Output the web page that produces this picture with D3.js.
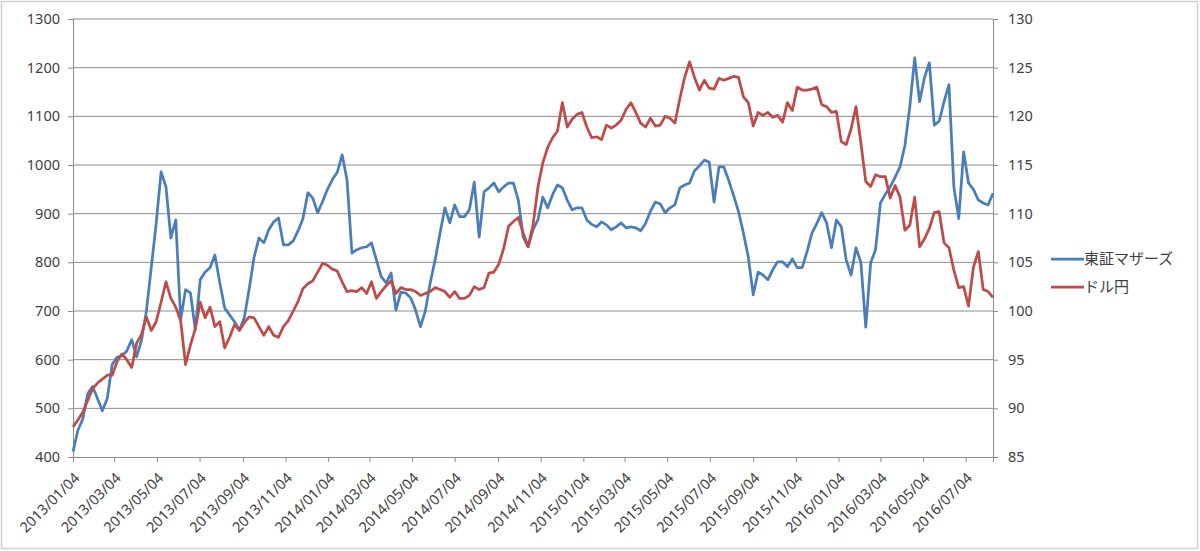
<!DOCTYPE html>
<html>
<head>
<meta charset="utf-8">
<script src="https://cdn.jsdelivr.net/npm/d3@7"></script>
<style>
  body { margin: 0; background: #fff; }
  svg text { font-family: "Noto Sans", "Noto Sans CJK JP", sans-serif; fill: #404040; }
</style>
</head>
<body>
<svg width="1200" height="551"></svg>
<script>
// weekly (Friday) closes, 2013/01/04 - 2016/08/12
var mothers = [411,455,478,530,545,520,495,520,590,605,608,618,641,606,640,700,790,880,986,955,
  850,887,682,744,737,661,764,780,789,815,758,706,692,678,661,686,745,810,850,840,
  867,883,891,836,836,844,865,890,943,932,902,925,950,970,985,1021,969,819,826,830,
  832,840,805,770,758,778,702,739,737,727,702,668,700,758,805,860,912,881,918,894,
  894,908,965,852,945,953,963,945,955,963,963,928,852,832,867,887,934,912,939,959,
  953,928,908,912,912,887,878,873,883,877,867,873,881,871,873,871,865,880,905,924,
  920,902,912,918,953,959,963,988,998,1010,1006,924,996,996,968,937,904,860,811,733,
  780,774,764,785,801,801,791,807,789,789,822,860,880,902,881,830,887,873,805,774,
  830,800,667,799,826,922,940,955,975,996,1040,1120,1220,1130,1180,1210,1082,1090,1130,1165,
  955,890,1027,963,950,928,922,918,942];
var usdjpy = [88.1,88.8,89.6,90.8,92.0,92.6,93.0,93.4,93.4,94.8,95.6,95.0,94.2,96.7,97.6,99.4,98.0,98.9,100.9,103.0,
  101.3,100.4,99.0,94.5,96.5,98.2,100.9,99.3,100.4,98.4,98.9,96.2,97.3,98.6,98.0,98.8,99.4,99.3,98.4,97.5,
  98.4,97.5,97.3,98.4,99.0,100.0,101.0,102.3,102.8,103.1,104.0,104.9,104.7,104.3,104.1,103.0,102.0,102.1,102.0,102.4,
  101.8,103.0,101.3,102.0,102.6,103.1,101.8,102.4,102.2,102.2,102.0,101.6,101.8,102.0,102.4,102.2,102.0,101.4,102.0,101.3,
  101.3,101.6,102.5,102.2,102.4,103.9,104.0,104.8,106.4,108.7,109.2,109.6,108.0,106.6,108.8,112.7,115.2,116.8,117.8,118.5,
  121.4,118.9,119.7,120.2,120.4,118.9,117.8,117.9,117.6,119.1,118.8,119.1,119.6,120.7,121.4,120.4,119.3,118.9,119.8,119.0,
  119.1,120.0,119.8,119.3,121.8,124.0,125.6,124.0,122.7,123.7,122.9,122.8,123.9,123.7,123.9,124.1,124.0,122.0,121.4,119.0,
  120.4,120.1,120.4,119.9,120.1,119.4,121.4,120.6,123.0,122.7,122.7,122.8,123.0,121.2,121.0,120.4,120.5,117.4,117.1,118.7,
  121.0,117.3,113.3,112.8,114.0,113.8,113.8,111.6,112.9,111.7,108.3,108.8,111.7,106.6,107.4,108.5,110.1,110.2,107.0,106.5,
  104.2,102.4,102.5,100.5,104.5,106.1,102.2,102.0,101.4];
var seriesNames = ['東証マザーズ', 'ドル円'];
var leftTicks = [400,500,600,700,800,900,1000,1100,1200,1300];
var rightTicks = [85,90,95,100,105,110,115,120,125,130];
var xTickLabels = ['2013/01/04','2013/03/04','2013/05/04','2013/07/04','2013/09/04','2013/11/04',
  '2014/01/04','2014/03/04','2014/05/04','2014/07/04','2014/09/04','2014/11/04',
  '2015/01/04','2015/03/04','2015/05/04','2015/07/04','2015/09/04','2015/11/04',
  '2016/01/04','2016/03/04','2016/05/04','2016/07/04'];

var parse = d3.timeParse('%Y/%m/%d');
var dates = d3.timeFriday.range(parse('2013/01/04'), parse('2016/08/13'));

var svg = d3.select('svg');
var plotL = 73, plotR = 993, plotT = 19, plotB = 457;

// outer frame
svg.append('rect').attr('x', 1.5).attr('y', 1.5).attr('width', 1196).attr('height', 547)
  .attr('fill', '#fff').attr('stroke', '#d0d0d0').attr('stroke-width', 1.5);

var x = d3.scaleTime().domain([dates[0], dates[dates.length - 1]]).range([plotL, plotR]);
var yL = d3.scaleLinear().domain([400, 1300]).range([plotB, plotT]);
var yR = d3.scaleLinear().domain([85, 130]).range([plotB, plotT]);

// grid
svg.append('g').selectAll('line').data(leftTicks.slice(1)).join('line')
  .attr('x1', plotL).attr('x2', plotR)
  .attr('y1', d => yL(d)).attr('y2', d => yL(d))
  .attr('stroke', '#8c8c8c').attr('stroke-width', 1);

// left axis
var gl = svg.append('g').attr('transform', 'translate(' + plotL + ',0)')
  .call(d3.axisLeft(yL).tickValues(leftTicks).tickFormat(d3.format('d')).tickSize(5).tickPadding(8));
gl.select('.domain').attr('stroke', '#8c8c8c');
gl.selectAll('.tick line').attr('stroke', '#8c8c8c');
gl.selectAll('text').style('font-size', '14.5px').attr('fill', '#404040');

// right axis
var gr = svg.append('g').attr('transform', 'translate(' + plotR + ',0)')
  .call(d3.axisRight(yR).tickValues(rightTicks).tickSize(5).tickPadding(10));
gr.select('.domain').attr('stroke', '#8c8c8c');
gr.selectAll('.tick line').attr('stroke', '#8c8c8c');
gr.selectAll('text').style('font-size', '14.5px').attr('fill', '#404040');

// x axis
var xTicks = xTickLabels.map(parse);
var gx = svg.append('g').attr('transform', 'translate(0,' + plotB + ')')
  .call(d3.axisBottom(x).tickValues(xTicks).tickFormat(d3.timeFormat('%Y/%m/%d')).tickSize(5));
gx.select('.domain').attr('stroke', '#8c8c8c');
gx.selectAll('.tick line').attr('stroke', '#8c8c8c');
gx.selectAll('text').style('font-size', '14.5px').attr('fill', '#404040')
  .attr('text-anchor', 'end').attr('dy', null).attr('y', 0)
  .attr('transform', 'translate(7,22) rotate(-45)');

// lines
var colors = ['#4a7ebb', '#be4b48'];
var lineL = d3.line().x((d, i) => x(dates[i])).y(d => yL(d));
var lineR = d3.line().x((d, i) => x(dates[i])).y(d => yR(d));
svg.append('path').datum(mothers).attr('d', lineL)
  .attr('fill', 'none').attr('stroke', colors[0]).attr('stroke-width', 2.75).attr('stroke-linejoin', 'round');
svg.append('path').datum(usdjpy).attr('d', lineR)
  .attr('fill', 'none').attr('stroke', colors[1]).attr('stroke-width', 2.75).attr('stroke-linejoin', 'round');

// legend
var lg = svg.append('g').attr('transform', 'translate(1051,259)');
seriesNames.forEach(function (name, i) {
  lg.append('line').attr('x1', 0).attr('x2', 33).attr('y1', i * 28).attr('y2', i * 28)
    .attr('stroke', colors[i]).attr('stroke-width', 2.75);
  lg.append('text').attr('x', 33).attr('y', i * 28).attr('dy', '0.35em')
    .style('font-family', '"Noto Sans CJK JP", sans-serif').style('font-size', '15px')
    .attr('fill', '#404040').text(name);
});
</script>
</body>
</html>
